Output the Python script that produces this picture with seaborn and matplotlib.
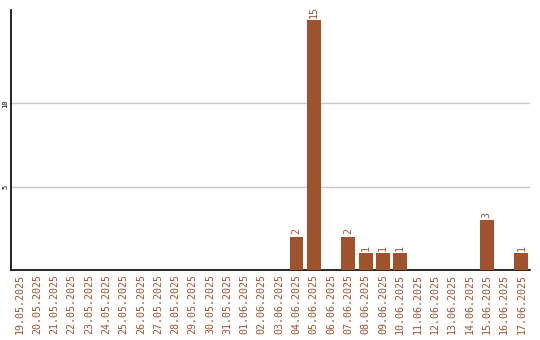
import matplotlib
matplotlib.use("Agg")
import matplotlib.pyplot as plt
import seaborn as sns
import pandas as pd

dates = ["19.05.2025", "20.05.2025", "21.05.2025", "22.05.2025", "23.05.2025",
         "24.05.2025", "25.05.2025", "26.05.2025", "27.05.2025", "28.05.2025",
         "29.05.2025", "30.05.2025", "31.05.2025", "01.06.2025", "02.06.2025",
         "03.06.2025", "04.06.2025", "05.06.2025", "06.06.2025", "07.06.2025",
         "08.06.2025", "09.06.2025", "10.06.2025", "11.06.2025", "12.06.2025",
         "13.06.2025", "14.06.2025", "15.06.2025", "16.06.2025", "17.06.2025"]
counts = [0, 0, 0, 0, 0, 0, 0, 0, 0, 0, 0, 0, 0, 0, 0,
          0, 2, 15, 0, 2, 1, 1, 1, 0, 0, 0, 0, 3, 0, 1]
yticks = [5, 10]

color = "#A0522D"
df = pd.DataFrame({"date": dates, "count": counts})

sns.set_style("white")
plt.rcParams["font.family"] = ["DejaVu Sans Mono"]

fig = plt.figure(figsize=(5.4, 3.4), dpi=100)
ax = fig.add_axes([0.0204, 0.206, 0.9611, 0.764])
sns.barplot(data=df, x="date", y="count", color=color, saturation=1,
            width=0.8, linewidth=0, edgecolor="none", ax=ax, zorder=3)

ax.set_ylim(0, 15.6)
ax.set_yticks(yticks)
ax.set_yticklabels([str(v) for v in yticks], fontsize=5, color="black")
for lbl in ax.get_yticklabels():
    lbl.set_rotation(90)
    lbl.set_rotation_mode("anchor")
    lbl.set_ha("center")
    lbl.set_va("baseline")
ax.yaxis.grid(True, color="#c8c8c8", linewidth=1, zorder=0)
ax.xaxis.grid(False)
ax.tick_params(axis="y", length=0, pad=2.5)
ax.tick_params(axis="x", length=0, pad=3, labelsize=7.2, labelcolor=color)
for lbl in ax.get_xticklabels():
    lbl.set_rotation(90)
ax.set_xlabel("")
ax.set_ylabel("")
for s in ["top", "right"]:
    ax.spines[s].set_visible(False)
for s in ["left", "bottom"]:
    ax.spines[s].set_color("black")
    ax.spines[s].set_linewidth(1.2)

for i, v in enumerate(counts):
    if v > 0:
        ax.text(i, v + 0.15, str(v), rotation=90, ha="center", va="bottom",
                fontsize=7.2, color=color)

fig.savefig("out.png", dpi=100)
